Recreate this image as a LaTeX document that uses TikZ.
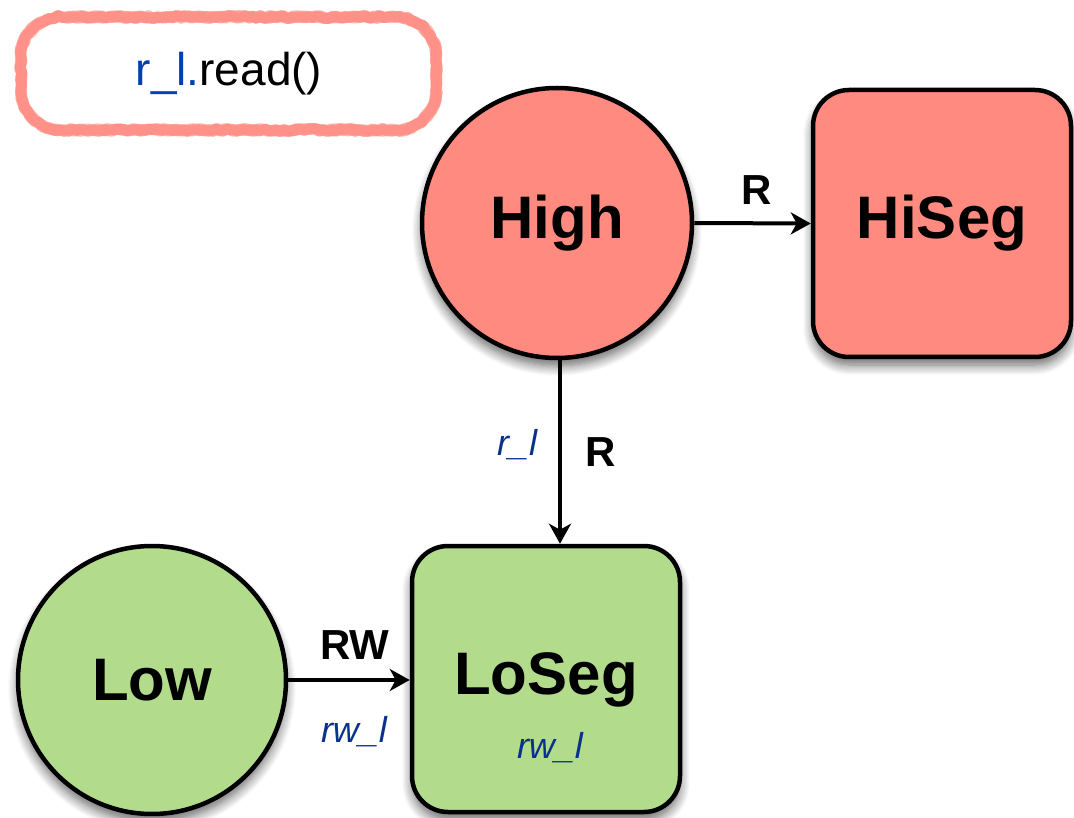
\documentclass[tikz,border=0pt]{standalone}
\usepackage{fontspec}
\setmainfont{Liberation Sans}
\usetikzlibrary{arrows.meta,decorations.pathmorphing,shadows.blur}
\definecolor{salmon}{RGB}{255,138,128}
\definecolor{lgreen}{RGB}{178,220,140}
\definecolor{lblue}{RGB}{0,64,176}
\definecolor{dblue}{RGB}{10,50,140}
\begin{document}
\begin{tikzpicture}[x=1pt,y=-1pt,
  shad/.style={blur shadow={shadow blur steps=10, shadow xshift=0pt, shadow yshift=-8pt, shadow blur radius=10pt, shadow opacity=60}},
  princ/.style={circle, draw=black, line width=4.5pt, minimum size=270pt, inner sep=0pt, font=\fontsize{60}{60}\selectfont\bfseries, shad},
  seg/.style={rectangle, rounded corners=36pt, draw=black, line width=4.5pt, inner sep=0pt, font=\fontsize{60}{60}\selectfont\bfseries, shad},
  conn/.style={line width=4pt, -{Stealth[length=20pt,width=22pt,inset=6pt]}},
  perm/.style={font=\fontsize{42}{42}\selectfont\bfseries},
  capt/.style={font=\fontsize{36}{36}\selectfont\itshape, text=dblue},
  rough/.style={draw=salmon, line width=11pt, line join=round, line cap=round, decorate, decoration={random steps, segment length=4pt, amplitude=1.4pt}}
]
\useasboundingbox (0,0) rectangle (1074,818);
% sketch box
\foreach \s in {1,2,3}{
  \pgfmathsetseed{\s*17}
  \draw[rough, opacity=0.6]
    (61,17) -- (396,17) arc[start angle=90, end angle=0, radius=40pt]
    -- (436,90) arc[start angle=0, end angle=-90, radius=40pt]
    -- (61,130) arc[start angle=-90, end angle=-180, radius=40pt]
    -- (21,57) arc[start angle=180, end angle=90, radius=40pt] -- cycle;
}
\node (code) at (229,74) {\fontsize{46}{46}\selectfont\textcolor{lblue}{r\_l.}read()};

\node[princ, fill=salmon] (High) at (557,223) {High};
\node[seg, fill=salmon, minimum width=258pt, minimum height=267pt] (HiSeg) at (942,223.5) {HiSeg};
\node[princ, fill=lgreen, minimum size=268pt] (Low) at (152,680) {Low};
\node[seg, fill=lgreen, minimum width=268pt, minimum height=266pt] (LoSeg) at (546,679) {};
\node[font=\fontsize{60}{60}\selectfont\bfseries] (LoSegT) at (546,680) {LoSeg};
\node[capt] (LoCap) at (550,748) {rw\_l};

\draw[conn] (High.east) -- (HiSeg.west);
\coordinate (dtop) at (560,358);
\draw[conn] (dtop) -- (dtop |- LoSeg.north);
\draw[conn] (Low.east) -- (LoSeg.west |- Low.east);

\node[perm] (lblHR) at (757,190) {R};
\node[perm] (lblDR) at (601,452) {R};
\node[capt] (lblDr) at (517,445) {r\_l};
\node[perm] (lblRW) at (355,645) {RW};
\node[capt] (lblrw) at (354,732) {rw\_l};
\end{tikzpicture}
\end{document}
